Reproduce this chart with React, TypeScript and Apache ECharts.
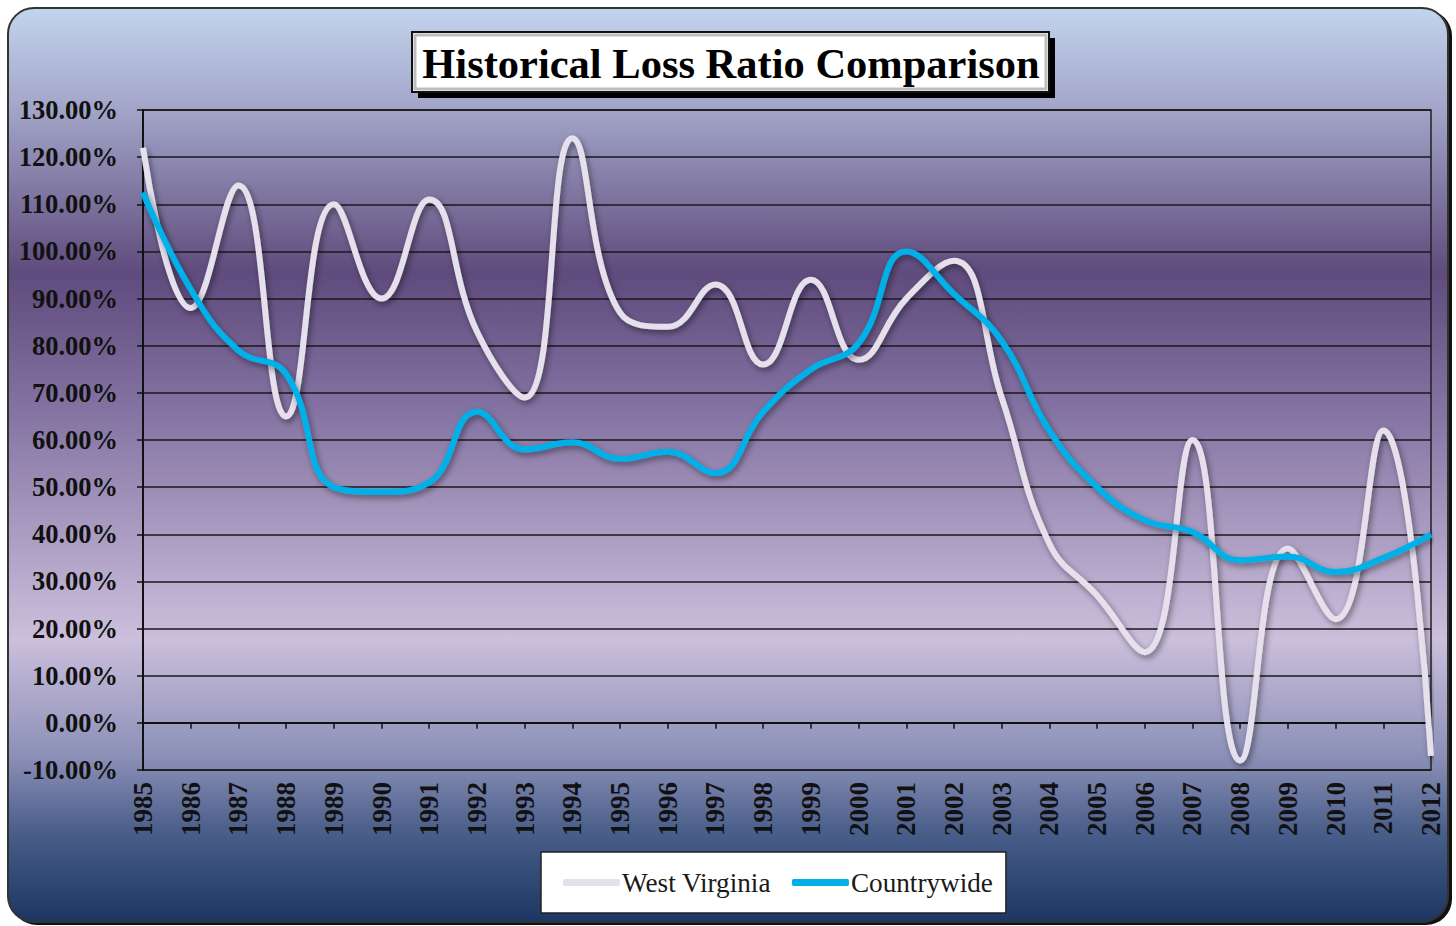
import React, { useEffect, useRef } from "react";
import * as echarts from "echarts";

const years = ["1985","1986","1987","1988","1989","1990","1991","1992","1993","1994","1995","1996","1997","1998","1999","2000","2001","2002","2003","2004","2005","2006","2007","2008","2009","2010","2011","2012"];
const westVirginia = [122, 88, 114, 65, 110, 90, 111, 83, 69, 124, 87, 84, 93, 76, 94, 77, 90, 98, 69, 38, 27, 15, 60, -8, 37, 22, 62, -7];
const countrywide = [112.5, 92, 79, 74, 50, 49, 51, 66, 58, 59.5, 56, 57.5, 53, 66, 75, 80.5, 100, 91, 81, 62, 50, 43, 40.5, 34.5, 35.3, 32, 35, 40];
const titleText = "Historical Loss Ratio Comparison";
const seriesNames = ["West Virginia", "Countrywide"];

const SERIF = "'Liberation Serif', 'Times New Roman', serif";

export default function App() {
  const ref = useRef<HTMLDivElement>(null);
  useEffect(() => {
    if (!ref.current) return;
    const chart = echarts.init(ref.current, null, { renderer: "svg" });
    const bgGrad = new echarts.graphic.LinearGradient(0, 0, 0, 1, [
      { offset: 0, color: "#c3d4ed" },
      { offset: 0.11, color: "#a2a5c8" },
      { offset: 0.29, color: "#5f4b7d" },
      { offset: 0.43, color: "#8170a0" },
      { offset: 0.69, color: "#cbbfdc" },
      { offset: 0.82, color: "#8b8fb7" },
      { offset: 0.9, color: "#4a5f8a" },
      { offset: 1, color: "#1d3562" },
    ]);
    const lineShadow = {
      shadowColor: "rgba(0,0,0,0.45)",
      shadowBlur: 6,
      shadowOffsetX: 2,
      shadowOffsetY: 3,
    };
    chart.setOption({
      animation: false,
      graphic: [
        { type: "rect", z: -20, shape: { x: 11, y: 10, width: 1441, height: 915, r: 26 }, style: { fill: "#111" } },
        { type: "rect", z: -19, shape: { x: 8, y: 8, width: 1440, height: 914, r: 26 }, style: { fill: bgGrad, stroke: "#333", lineWidth: 2 } },
        { type: "rect", z: 10, shape: { x: 418, y: 38, width: 637, height: 60 }, style: { fill: "#000" } },
        { type: "rect", z: 11, shape: { x: 412, y: 32, width: 637, height: 60 }, style: { fill: "#ffffff", stroke: "#111", lineWidth: 2 } },
        { type: "rect", z: 12, shape: { x: 415, y: 35, width: 631, height: 54 }, style: { fill: "none", stroke: "#bdbdbd", lineWidth: 3 } },
        { type: "text", z: 13, x: 731, y: 63, style: { text: titleText, font: "bold 42.5px " + SERIF, fill: "#000", align: "center", verticalAlign: "middle" } },
      ],
      legend: {
        left: 541,
        top: 852,
        padding: [17, 13, 17, 22],
        itemGap: 21,
        itemWidth: 57,
        itemHeight: 7,
        icon: "roundRect",
        backgroundColor: "#ffffff",
        borderColor: "#222",
        borderWidth: 1.5,
        borderRadius: 0,
        data: seriesNames,
        textStyle: { fontFamily: SERIF, fontSize: 27.2, color: "#1a1a1a", padding: [0, 0, 0, -3] },
      },
      grid: { left: 143, right: 25, top: 110, bottom: 156, show: true, borderColor: "#222", borderWidth: 1.5, backgroundColor: "transparent" },
      xAxis: {
        type: "category",
        data: years,
        boundaryGap: false,
        axisLine: { lineStyle: { color: "#111", width: 2 } },
        axisTick: { show: true, length: 6, lineStyle: { color: "#111", width: 1.5 } },
        axisLabel: { rotate: 90, fontFamily: SERIF, fontWeight: "bold", fontSize: 27, color: "#111", margin: 12, interval: 0 },
        splitLine: { show: false },
      },
      yAxis: {
        type: "value",
        min: -10,
        max: 130,
        interval: 10,
        axisLine: { show: true, lineStyle: { color: "#111", width: 2 } },
        axisTick: { show: true, length: 6, lineStyle: { color: "#111", width: 1.5 } },
        axisLabel: { fontFamily: SERIF, fontWeight: "bold", fontSize: 26.5, color: "#111", margin: 25, formatter: (v: number) => v.toFixed(2) + "%" },
        splitLine: { show: true, lineStyle: { color: "#1a1a1a", width: 1.5 } },
      },
      series: [
        {
          name: seriesNames[0],
          type: "line",
          data: westVirginia,
          smooth: 0.45,
          symbol: "none",
          color: "#e6e0ec",
          lineStyle: { color: "#e6e0ec", width: 6, ...lineShadow },
          z: 3,
        },
        {
          name: seriesNames[1],
          type: "line",
          data: countrywide,
          smooth: 0.45,
          symbol: "none",
          color: "#00b0e8",
          lineStyle: { color: "#00b0e8", width: 6, ...lineShadow },
          z: 4,
        },
      ],
    });
    return () => chart.dispose();
  }, []);
  return <div ref={ref} style={{ position: "absolute", left: 0, top: 0, width: 1456, height: 926 }} />;
}
